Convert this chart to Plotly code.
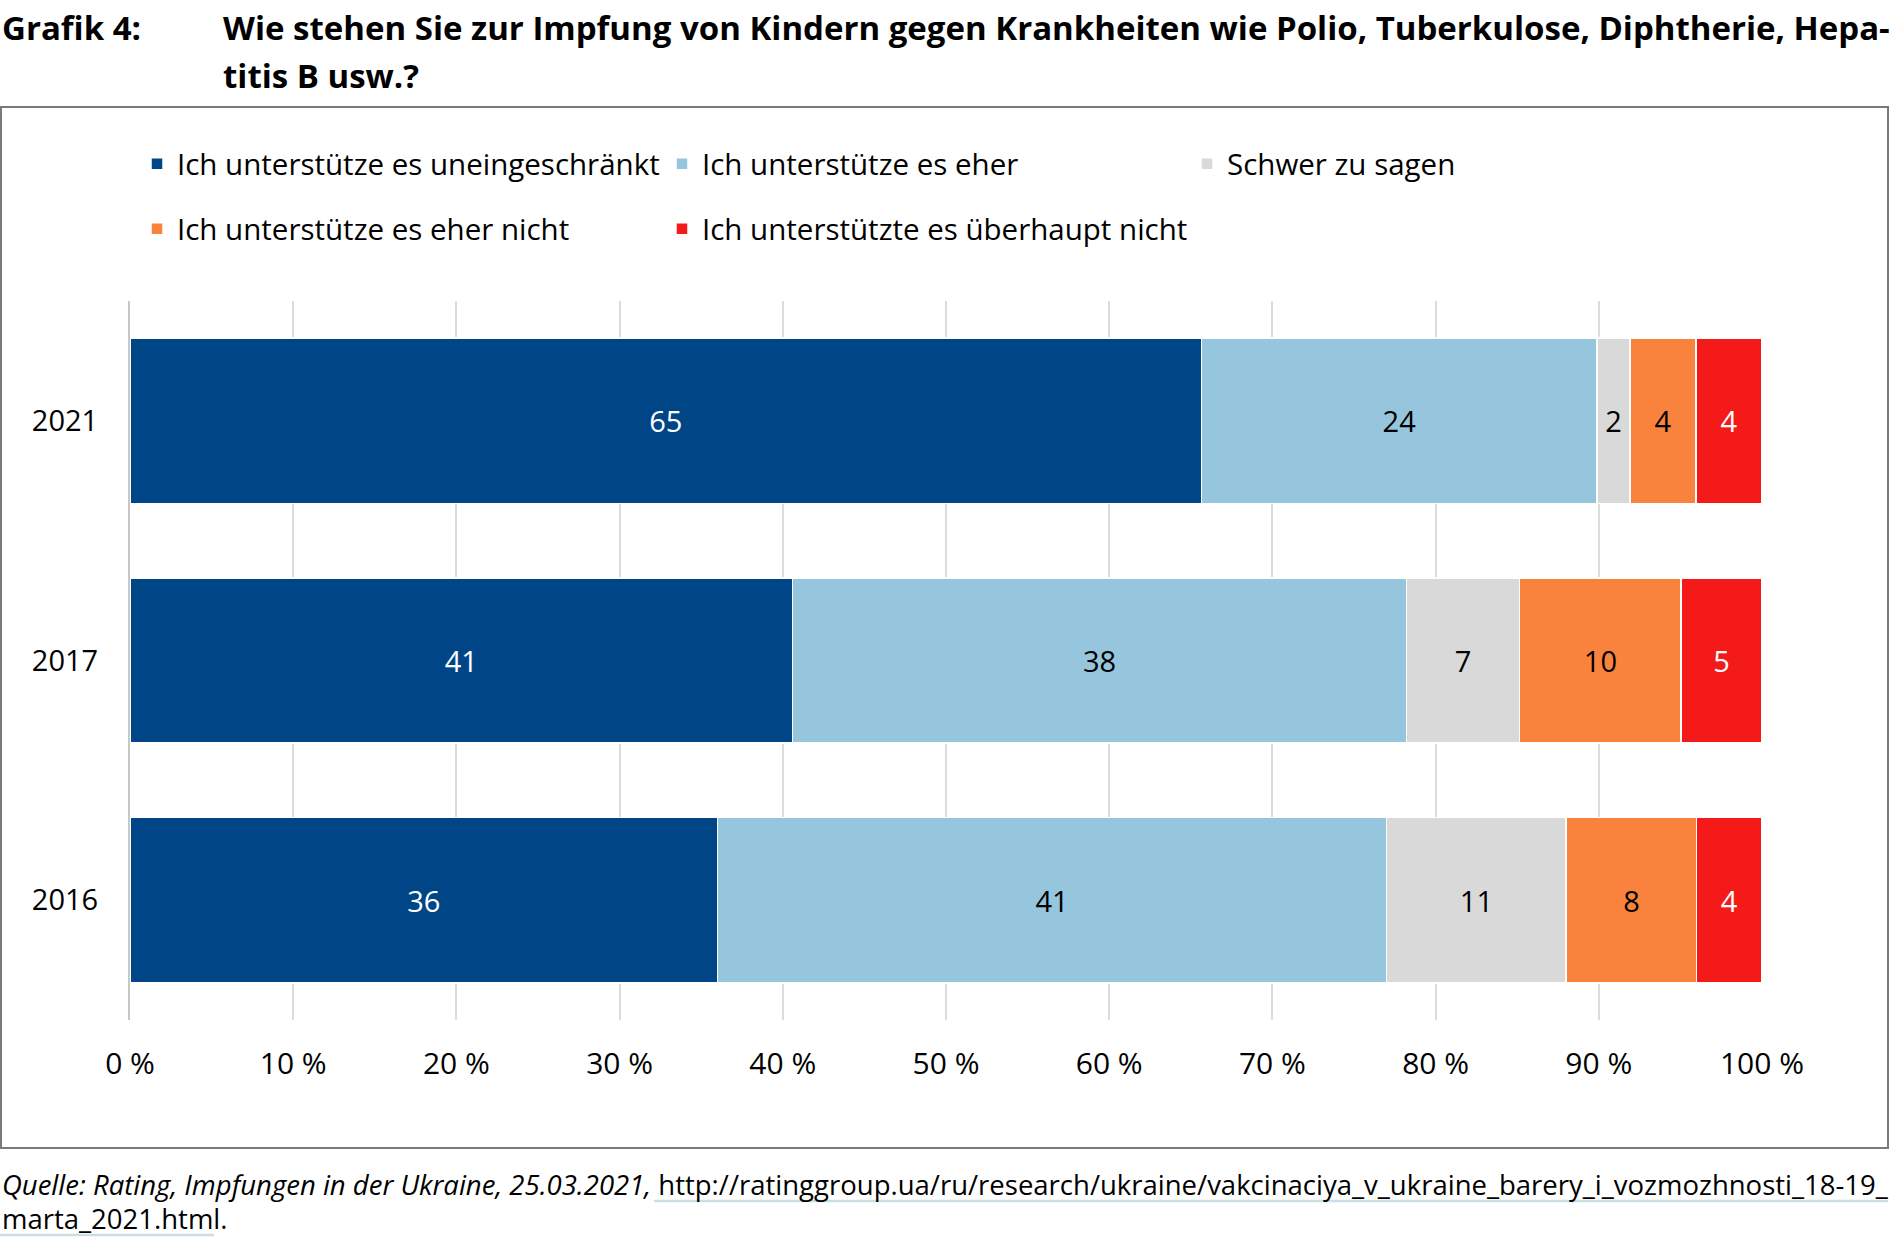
import plotly.graph_objects as go

years = ["2021", "2017", "2016"]
series_names = [
    "Ich unterstütze es uneingeschränkt",
    "Ich unterstütze es eher",
    "Schwer zu sagen",
    "Ich unterstütze es eher nicht",
    "Ich unterstützte es überhaupt nicht",
]
uneingeschraenkt = [65, 41, 36]
eher = [24, 38, 41]
schwer = [2, 7, 11]
eher_nicht = [4, 10, 8]
ueberhaupt_nicht = [4, 5, 4]
series_values = [uneingeschraenkt, eher, schwer, eher_nicht, ueberhaupt_nicht]
tick_vals = [0, 10, 20, 30, 40, 50, 60, 70, 80, 90, 100]
tick_text = [f"{v} %" for v in tick_vals]

colors = ["#004687", "#96C5DE", "#D9D9D9", "#F9833C", "#F41A1A"]
text_colors = ["white", "black", "black", "black", "white"]

W, H = 1890, 1245
PL, PR, PT, PB = 130, 1762, 301, 1020
FONT = "Open Sans"


def px(x):
    return (x - PL) / (PR - PL)


def py(y):
    return (PB - y) / (PB - PT)


fig = go.Figure()
for i, (name, vals) in enumerate(zip(series_names, series_values)):
    fig.add_trace(go.Bar(
        y=years, x=vals, name=name, orientation="h",
        marker=dict(color=colors[i], line=dict(color="white", width=1.5)),
        text=[str(v) for v in vals], texttemplate="%{text}",
        textposition="inside", insidetextanchor="middle",
        textfont=dict(color=text_colors[i], size=29, family=FONT),
        legend="legend" if i < 3 else "legend2",
        hoverinfo="skip",
    ))

legend_common = dict(
    orientation="h", xanchor="left", yanchor="middle",
    entrywidth=480, entrywidthmode="pixels", traceorder="normal",
    font=dict(size=29.5, family=FONT, color="black"),
    bgcolor="rgba(0,0,0,0)", borderwidth=0, itemclick=False,
)

fig.update_layout(
    width=W, height=H,
    margin=dict(l=PL, r=W - PR, t=PT, b=H - PB, pad=0),
    barmode="stack", barnorm="percent", bargap=0.31,
    plot_bgcolor="white", paper_bgcolor="white",
    font=dict(family=FONT, color="black"),
    legend=dict(x=px(137), y=py(164), **legend_common),
    legend2=dict(x=px(137), y=py(229), **legend_common),
    showlegend=True,
    uniformtext=dict(minsize=20, mode="show"),
)

fig.update_xaxes(
    range=[0, 100], tickvals=tick_vals, ticktext=tick_text,
    showgrid=True, gridcolor="#dcdcdc", gridwidth=1.5,
    zeroline=False, showline=False, ticks="",
    tickfont=dict(size=30, family=FONT, color="black"),
    ticklabelstandoff=23, fixedrange=True,
)
fig.update_yaxes(
    type="category", range=[2.5, -0.5],
    showgrid=False, zeroline=False, showline=True,
    linecolor="#c8c8c8", linewidth=2, ticks="",
    tickfont=dict(size=29, family=FONT, color="black"),
    ticklabelstandoff=24, fixedrange=True,
)

# frame around chart area
fig.add_shape(type="rect", xref="paper", yref="paper",
              x0=px(1), x1=px(1888), y0=py(107), y1=py(1148),
              line=dict(color="#7a7a7a", width=2), fillcolor="rgba(0,0,0,0)",
              layer="below")

title_font = dict(size=33, family=FONT, color="black")
fig.add_annotation(xref="paper", yref="paper", x=px(0), y=py(27),
                   xanchor="left", yanchor="middle", showarrow=False,
                   text="<b>Grafik 4:</b>", font=title_font)
fig.add_annotation(xref="paper", yref="paper", x=px(221), y=py(27),
                   xanchor="left", yanchor="middle", showarrow=False,
                   text="<b>Wie stehen Sie zur Impfung von Kindern gegen Krankheiten wie Polio, Tuberkulose, Diphtherie, Hepa-</b>",
                   font=title_font)
fig.add_annotation(xref="paper", yref="paper", x=px(221), y=py(75),
                   xanchor="left", yanchor="middle", showarrow=False,
                   text="<b>titis B usw.?</b>", font=title_font)

foot_font = dict(size=27.5, family=FONT, color="black")
fig.add_annotation(xref="paper", yref="paper", x=px(0), y=py(1184),
                   xanchor="left", yanchor="middle", showarrow=False,
                   text="<i>Quelle: Rating, Impfungen in der Ukraine, 25.03.2021,</i> "
                        "http://ratinggroup.ua/ru/research/ukraine/vakcinaciya_v_ukraine_barery_i_vozmozhnosti_18-19_",
                   font=foot_font)
fig.add_annotation(xref="paper", yref="paper", x=px(0), y=py(1218),
                   xanchor="left", yanchor="middle", showarrow=False,
                   text="marta_2021.html.", font=foot_font)

# link underlines (light blue-grey as in the source)
for x0, x1, yy in [(654, 1888, 1201), (0, 214, 1235)]:
    fig.add_shape(type="line", xref="paper", yref="paper",
                  x0=px(x0), x1=px(x1), y0=py(yy), y1=py(yy),
                  line=dict(color="#c9dfe4", width=2.5))

fig.write_html("out.html", config={"displayModeBar": False},
               post_script="document.body.style.margin='0';")
